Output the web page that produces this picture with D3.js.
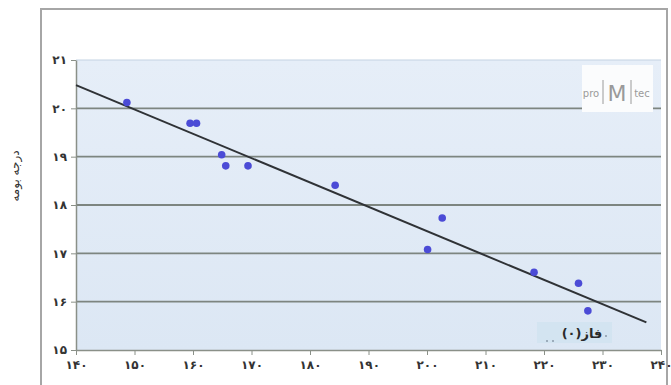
<!DOCTYPE html>
<html>
<head>
<meta charset="utf-8">
<script src="https://cdn.jsdelivr.net/npm/d3@7"></script>
<style>
  html, body { margin: 0; padding: 0; background: #ffffff; }
  svg { display: block; }
  text { font-family: "DejaVu Sans", "Noto Sans", sans-serif; }
</style>
</head>
<body>
<svg id="chart" width="671" height="385"></svg>
<script>
// Baumé degree against temperature, with the fitted trend line
const xTicks = [140, 150, 160, 170, 180, 190, 200, 210, 220, 230, 240];
const xTickLabels = ["۱۴۰", "۱۵۰", "۱۶۰", "۱۷۰", "۱۸۰", "۱۹۰", "۲۰۰", "۲۱۰", "۲۲۰", "۲۳۰", "۲۴۰"];
const yTicks = [15, 16, 17, 18, 19, 20, 21];
const yTickLabels = ["۱۵", "۱۶", "۱۷", "۱۸", "۱۹", "۲۰", "۲۱"];

const pointX = [148.7, 159.5, 160.6, 164.9, 165.6, 169.4, 184.3, 200.1, 202.6, 218.3, 225.9, 227.5];
const pointY = [20.12, 19.69, 19.69, 19.04, 18.81, 18.81, 18.41, 17.08, 17.73, 16.61, 16.38, 15.81];

const fitX = [140, 237.5];
const fitY = [20.48, 15.57];

const yTitle = "درجه بومه";
const legendLabel = "فاز(۰)";

const svg = d3.select("#chart");

// outer frame
svg.append("rect")
  .attr("x", 41).attr("y", 9)
  .attr("width", 626).attr("height", 390)
  .attr("fill", "#ffffff")
  .attr("stroke", "#a6a6a6").attr("stroke-width", 2);

const x = d3.scaleLinear().domain([140, 240]).range([76, 661]);
const y = d3.scaleLinear().domain([15, 21]).range([350, 60]);

// plot area
const bg = svg.append("defs").append("linearGradient")
  .attr("id", "plotbg").attr("x1", 0).attr("y1", 0).attr("x2", 0).attr("y2", 1);
bg.append("stop").attr("offset", "0%").attr("stop-color", "#e6eef8");
bg.append("stop").attr("offset", "100%").attr("stop-color", "#dce7f4");

svg.append("rect")
  .attr("x", x(140)).attr("y", y(21))
  .attr("width", x(240) - x(140)).attr("height", y(15) - y(21))
  .attr("fill", "url(#plotbg)");

svg.append("line")
  .attr("x1", x(140)).attr("x2", x(240))
  .attr("y1", y(21)).attr("y2", y(21))
  .attr("stroke", "#c3d2e2").attr("stroke-width", 1);

// horizontal gridlines
svg.append("g")
  .selectAll("line")
  .data(yTicks.filter(d => d > 15 && d < 21))
  .join("line")
  .attr("x1", x(140)).attr("x2", x(240))
  .attr("y1", d => y(d)).attr("y2", d => y(d))
  .attr("stroke", "#7d8580").attr("stroke-width", 1.8);

// axes
const xAxis = d3.axisBottom(x)
  .tickValues(xTicks)
  .tickFormat((d, i) => xTickLabels[i])
  .tickSize(5).tickSizeOuter(0);
const gx = svg.append("g").attr("transform", `translate(0,${y(15)})`).call(xAxis);
gx.select(".domain").attr("stroke", "#8a9088").attr("stroke-width", 1.5);
gx.selectAll(".tick line").attr("stroke", "#8a9088");
gx.selectAll(".tick text")
  .attr("font-size", 12).attr("font-weight", "bold").attr("fill", "#333")
  .attr("dy", "0.95em");

const yAxis = d3.axisLeft(y)
  .tickValues(yTicks)
  .tickFormat((d, i) => yTickLabels[i])
  .tickSize(5).tickSizeOuter(0);
const gy = svg.append("g").attr("transform", `translate(${x(140)},0)`).call(yAxis);
gy.select(".domain").attr("stroke", "#8a9088").attr("stroke-width", 1.5);
gy.selectAll(".tick line").attr("stroke", "#8a9088");
gy.selectAll(".tick text")
  .attr("font-size", 12).attr("font-weight", "bold").attr("fill", "#333")
  .attr("x", -9);

// y axis title
svg.append("text")
  .attr("transform", `translate(15,176) rotate(-90)`)
  .attr("text-anchor", "middle")
  .attr("dy", "0.35em")
  .attr("font-size", 12).attr("fill", "#333")
  .text(yTitle);

// logo box
const logo = svg.append("g");
logo.append("rect")
  .attr("x", 582).attr("y", 65).attr("width", 71).attr("height", 47)
  .attr("fill", "#fbfcfd");
logo.append("text").attr("x", 591).attr("y", 97).attr("text-anchor", "middle")
  .attr("font-size", 10).attr("fill", "#9a9a9a").text("pro");
logo.append("line").attr("x1", 603).attr("x2", 603).attr("y1", 80).attr("y2", 104)
  .attr("stroke", "#9a9a9a").attr("stroke-width", 1);
logo.append("text").attr("x", 617).attr("y", 101).attr("text-anchor", "middle")
  .attr("font-size", 22).attr("fill", "#9a9a9a").text("M");
logo.append("line").attr("x1", 631).attr("x2", 631).attr("y1", 80).attr("y2", 104)
  .attr("stroke", "#9a9a9a").attr("stroke-width", 1);
logo.append("text").attr("x", 642).attr("y", 97).attr("text-anchor", "middle")
  .attr("font-size", 10).attr("fill", "#9a9a9a").text("tec");

// fitted line
const line = d3.line().x(d => x(d[0])).y(d => y(d[1]));
svg.append("path")
  .datum(fitX.map((v, i) => [v, fitY[i]]))
  .attr("d", line)
  .attr("fill", "none")
  .attr("stroke", "#2f3236").attr("stroke-width", 2);

// data points
svg.append("g")
  .selectAll("circle")
  .data(pointX.map((v, i) => [v, pointY[i]]))
  .join("circle")
  .attr("cx", d => x(d[0])).attr("cy", d => y(d[1]))
  .attr("r", 3.8)
  .attr("fill", "#4b4bd6");

// legend
const lg = svg.append("g");
lg.append("rect")
  .attr("x", 537).attr("y", 322).attr("width", 75).attr("height", 21)
  .attr("fill", "#d3e4f1");
lg.append("text")
  .attr("x", 582).attr("y", 338).attr("text-anchor", "middle")
  .attr("font-size", 13).attr("font-weight", "bold").attr("fill", "#2a2a2a")
  .text(legendLabel);
lg.selectAll("circle")
  .data([[547, 341], [553, 341], [606, 336]])
  .join("circle")
  .attr("cx", d => d[0]).attr("cy", d => d[1])
  .attr("r", 1).attr("fill", "#8a9aa8");
</script>
</body>
</html>
